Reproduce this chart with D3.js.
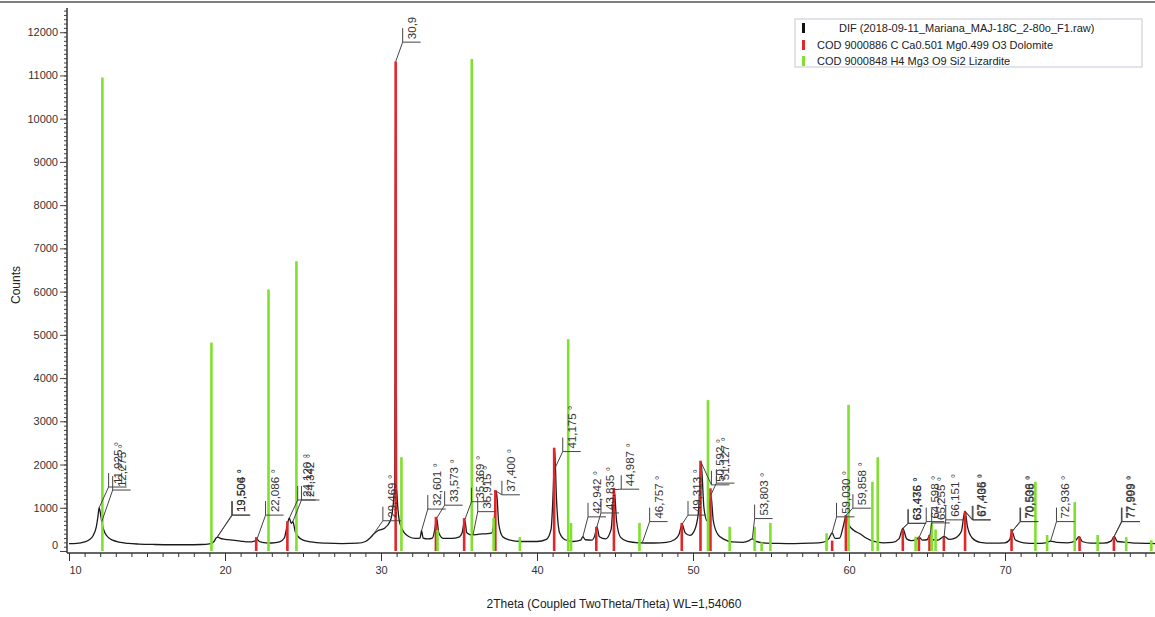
<!DOCTYPE html>
<html>
<head>
<meta charset="utf-8">
<script src="https://cdn.jsdelivr.net/npm/d3@7"></script>
<style>
  html, body { margin: 0; padding: 0; background: #fff; }
  svg { display: block; font-family: "Liberation Sans", Arial, sans-serif; }
</style>
</head>
<body>
<svg id="chart" width="1155" height="617"></svg>
<script>
// Measured scan: 2Theta (deg) and counts
const scanTwoTheta = [10.0,10.5,11.0,11.3,11.55,11.75,11.85,11.93,12.0,12.1,12.2,12.3,12.5,12.8,13.2,13.8,14.5,15.5,16.5,17.5,18.5,19.0,19.3,19.45,19.55,19.7,20.0,20.5,21.0,21.5,21.9,22.05,22.2,22.6,23.0,23.5,23.8,24.0,24.12,24.25,24.35,24.5,24.7,25.0,25.5,26.5,27.5,28.5,29.0,29.3,29.5,29.8,30.2,30.6,30.88,30.94,31.0,31.2,31.5,31.8,32.2,32.5,32.6,32.7,33.0,33.3,33.45,33.57,33.7,34.0,34.5,35.0,35.2,35.37,35.5,35.8,36.3,36.8,37.1,37.25,37.4,37.55,37.8,38.2,39.0,40.0,40.6,40.9,41.05,41.13,41.25,41.45,41.8,42.3,42.8,42.94,43.1,43.5,43.7,43.84,44.0,44.4,44.75,44.95,45.1,45.35,45.8,46.5,47.5,48.3,48.8,49.1,49.3,49.5,49.8,50.1,50.35,50.52,50.7,50.9,51.05,51.15,51.3,51.6,52.0,52.5,53.2,53.6,53.8,54.0,54.5,55.5,56.5,57.5,58.3,58.7,58.92,59.1,59.4,59.65,59.82,60.0,60.3,60.7,61.1,61.6,62.2,62.8,63.2,63.45,63.7,64.0,64.3,64.5,64.7,65.0,65.2,65.4,65.7,66.1,66.4,66.8,67.2,67.43,67.6,67.9,68.4,69.2,70.0,70.3,70.45,70.65,71.2,72.0,72.6,72.92,73.3,74.0,74.5,74.75,74.95,75.5,76.3,76.8,77.0,77.2,77.8,78.5,79.3,80.0];
const scanCounts = [170,175,210,260,360,560,780,1000,900,680,520,420,320,250,205,175,160,150,145,145,150,165,220,310,320,290,270,250,230,210,230,270,220,190,185,210,300,620,760,640,680,450,330,250,210,180,170,180,220,300,380,470,520,700,1500,11000,1500,650,420,330,290,300,470,300,280,300,500,760,420,290,290,320,420,720,420,370,390,400,420,700,1380,620,330,260,220,220,270,500,1500,2350,1200,420,260,220,250,330,260,250,350,560,330,280,500,1420,700,320,220,190,185,200,260,380,620,420,360,480,900,2050,1000,700,1050,1300,700,380,270,210,200,240,280,230,190,175,170,180,200,280,420,290,300,600,830,600,480,400,300,220,190,200,280,520,280,240,260,320,250,260,380,260,250,340,270,300,450,920,550,300,200,180,190,260,450,260,190,175,190,230,200,190,230,330,220,180,180,230,340,220,200,180,175,170];

// Reference pattern: COD 9000886 Dolomite
const dolomitePos = [22.0, 24.0, 30.94, 33.52, 35.33, 37.33, 41.1, 43.8, 44.93, 49.28, 50.48, 51.12, 58.92, 59.8, 63.45, 64.48, 65.16, 66.08, 67.44, 70.42, 74.78, 76.98];
const dolomiteInt = [320, 690, 11320, 790, 760, 1410, 2390, 560, 1460, 650, 2090, 1450, 240, 830, 490, 330, 370, 330, 910, 510, 330, 330];

// Reference pattern: COD 9000848 Lizardite
const lizarditePos = [12.14, 19.13, 22.79, 24.58, 31.31, 33.62, 35.82, 37.22, 38.9, 42.0, 42.18, 46.57, 50.96, 52.35, 53.95, 54.4, 54.96, 58.56, 59.97, 61.5, 61.84, 64.27, 65.3, 65.55, 71.95, 72.7, 74.47, 75.94, 77.77, 79.38];
const lizarditeInt = [10950, 4820, 6050, 6700, 2170, 480, 11380, 760, 320, 4900, 650, 650, 3490, 560, 560, 200, 650, 410, 3380, 1600, 2170, 330, 650, 500, 1600, 370, 1130, 370, 320, 250];

// Peak labels: text, peak point (2Theta, counts), leader elbow (2Theta, counts)
const labelText = ["11,925 °","12,275 °","19,504 °","19,506 °","22,086 °","24,120 °","24,342 °","29,469 °","30,9","32,601 °","33,573 °","35,369 °","35,915 °","37,400 °","41,175 °","42,942 °","43,835 °","44,987 °","46,757 °","49,313 °","50,592 °","51,127 °","53,803 °","59,030 °","59,858 °","63,436 °","63,475 °","64,598 °","65,255 °","66,151 °","67,405 °","67,436 °","70,506 °","70,538 °","72,936 °","77,909 °","77,999 °"];
const labelPeak2T = [11.93,12.1,19.5,19.5,22.05,24.12,24.35,29.5,30.94,32.6,33.57,35.37,35.9,37.4,41.13,42.94,43.84,44.95,46.75,49.3,50.52,51.15,53.8,58.92,59.82,63.45,63.45,64.5,65.2,66.1,67.43,67.43,70.45,70.45,72.92,77.0,77.0];
const labelPeakCounts = [1000,680,320,320,270,760,680,380,11320,470,760,720,370,1380,1900,330,560,1420,190,620,2050,1300,280,420,830,520,520,320,380,340,920,920,450,450,230,340,340];
const labelElbow2T = [12.54,12.8,20.43,20.47,22.6,24.66,24.9,30.12,31.39,33.0,34.08,35.8,36.2,37.75,41.65,43.27,44.1,45.4,47.22,49.68,51.18,51.5,53.95,59.2,60.25,63.78,63.8,64.95,65.3,66.2,67.9,67.95,70.96,71.0,73.3,77.46,77.5];
const labelElbowCounts = [1480,1410,830,830,830,1180,1180,700,11770,970,1060,1140,910,1300,2300,790,880,1430,680,830,1530,1570,750,790,990,640,640,680,650,720,720,720,680,680,680,680,680];

// Axis ticks
const xMajorTicks = [10, 20, 30, 40, 50, 60, 70];
const yMajorTicks = [0, 1000, 2000, 3000, 4000, 5000, 6000, 7000, 8000, 9000, 10000, 11000, 12000];

const legendLabels = [
  "DIF (2018-09-11_Mariana_MAJ-18C_2-80o_F1.raw)",
  "COD 9000886 C Ca0.501 Mg0.499 O3 Dolomite",
  "COD 9000848 H4 Mg3 O9 Si2 Lizardite"
];
const legendColors = ["#111111", "#e3262a", "#7fe02e"];

const svg = d3.select("#chart");
const x = d3.scaleLinear().domain([10, 80]).range([69, 1161]);
const y = d3.scaleLinear().domain([0, 12560]).range([551, 8]);

// Frame line along the top
svg.append("line").attr("x1", 0).attr("x2", 1155).attr("y1", 2).attr("y2", 2)
  .attr("stroke", "#555").attr("stroke-width", 1.5);

svg.append("clipPath").attr("id", "plotClip")
  .append("rect").attr("x", 67).attr("y", 11).attr("width", 1100).attr("height", 545);

// X axis
const xMinor = d3.range(10, 81, 1);
const xAxisMinor = d3.axisBottom(x).tickValues(xMinor).tickSize(4).tickFormat("");
const xAxisMajor = d3.axisBottom(x).tickValues(xMajorTicks).tickSize(8).tickFormat(d3.format("d"));
const gxMinor = svg.append("g").attr("transform", "translate(0,553)").call(xAxisMinor);
const gx = svg.append("g").attr("transform", "translate(0,553)").call(xAxisMajor);
[gxMinor, gx].forEach(g => {
  g.select(".domain").attr("stroke", "#333").attr("d", "M67,0H1161");
  g.selectAll(".tick line").attr("stroke", "#333");
});
gx.selectAll(".tick text").attr("font-size", 11).attr("fill", "#333").attr("dy", "0.95em")
  .attr("font-family", "Liberation Sans, Arial, sans-serif");
gx.selectAll(".tick text").filter(d => d === 10).attr("text-anchor", "start");

// Y axis
const yMinor = d3.range(0, 12501, 100);
const yAxisMinor = d3.axisLeft(y).tickValues(yMinor).tickSize(3).tickFormat("");
const yAxisMajor = d3.axisLeft(y).tickValues(yMajorTicks).tickSize(7).tickFormat(d3.format("d"));
const gyMinor = svg.append("g").attr("transform", "translate(67,0)").call(yAxisMinor);
const gy = svg.append("g").attr("transform", "translate(67,0)").call(yAxisMajor);
[gyMinor, gy].forEach(g => {
  g.select(".domain").attr("stroke", "#333").attr("d", "M0,8V553");
  g.selectAll(".tick line").attr("stroke", "#444");
});
gy.selectAll(".tick text").attr("font-size", 11).attr("fill", "#333").attr("x", -9)
  .attr("font-family", "Liberation Sans, Arial, sans-serif");
gy.selectAll(".tick text").filter(d => d === 0).attr("dy", "-0.2em");

// Axis titles
svg.append("text").attr("transform", "translate(20,285) rotate(-90)")
  .attr("text-anchor", "middle").attr("font-size", 12).attr("fill", "#222").text("Counts");
svg.append("text").attr("x", 614).attr("y", 608).attr("text-anchor", "middle")
  .attr("font-size", 12).attr("fill", "#222").text("2Theta (Coupled TwoTheta/Theta) WL=1,54060");

const plot = svg.append("g").attr("clip-path", "url(#plotClip)");

// Measured scan
const scanData = scanTwoTheta.map((t, i) => [t, scanCounts[i]]);
plot.append("path").datum(scanData)
  .attr("fill", "none").attr("stroke", "#1a1a1a").attr("stroke-width", 1.3)
  .attr("d", d3.line().x(d => x(d[0])).y(d => y(d[1])).curve(d3.curveMonotoneX));

// Reference sticks
function sticks(pos, vals, color) {
  plot.append("g").selectAll("line").data(pos).join("line")
    .attr("x1", d => x(d)).attr("x2", d => x(d))
    .attr("y1", y(0)).attr("y2", (d, i) => y(vals[i]))
    .attr("stroke", color).attr("stroke-width", 2.6);
}
sticks(dolomitePos, dolomiteInt, legendColors[1]);
sticks(lizarditePos, lizarditeInt, legendColors[2]);

// Peak labels with leaders
const labels = plot.append("g");
labelText.forEach((t, i) => {
  const px = x(labelPeak2T[i]), py = y(labelPeakCounts[i]);
  const ex = x(labelElbow2T[i]), ey = y(labelElbowCounts[i]);
  labels.append("path")
    .attr("d", `M${px},${py}L${ex},${ey}H${ex + 18}M${ex},${ey}V${ey - 14}`)
    .attr("fill", "none").attr("stroke", "#444").attr("stroke-width", 1);
  labels.append("text")
    .attr("transform", `translate(${ex + 13},${ey - 3}) rotate(-90)`)
    .attr("font-size", 11.5).attr("fill", "#333").text(t);
});

// Legend
const lg = svg.append("g");
lg.append("rect").attr("x", 795).attr("y", 19).attr("width", 347).attr("height", 48)
  .attr("fill", "#fff").attr("stroke", "#c4c8d4").attr("stroke-width", 1);
const legendY = [28, 45, 61];
const legendX = [839, 817, 817];
legendLabels.forEach((t, i) => {
  lg.append("rect").attr("x", 802).attr("y", legendY[i] - 5).attr("width", 3).attr("height", 10)
    .attr("fill", legendColors[i]);
  lg.append("text").attr("x", legendX[i]).attr("y", legendY[i]).attr("dy", "0.35em")
    .attr("font-size", 11).attr("fill", "#222").text(t);
});
</script>
</body>
</html>
